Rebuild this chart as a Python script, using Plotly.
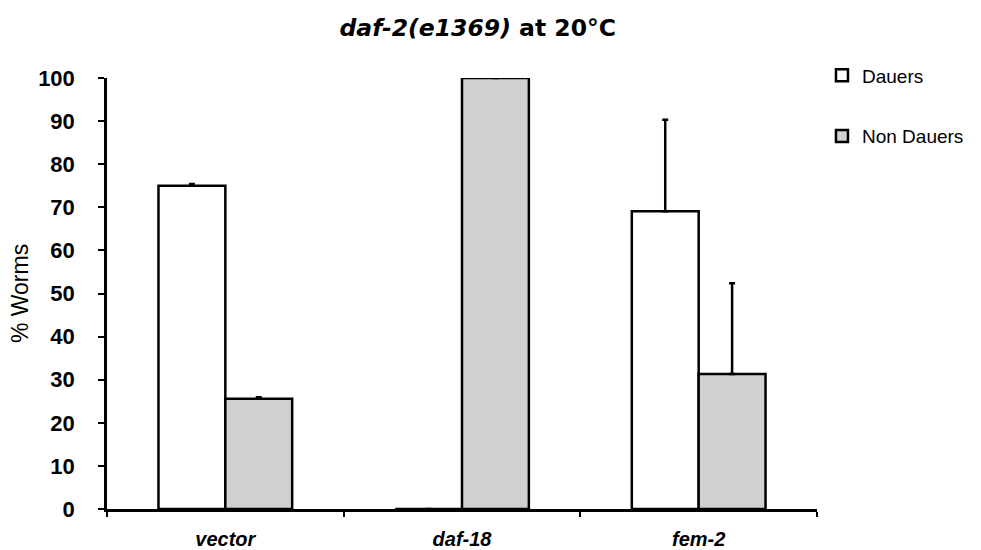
import plotly.graph_objects as go

categories = ["vector", "daf-18", "fem-2"]
dauers = [75.0, 0.0, 69.1]
dauers_err = [0.4, 0.0, 21.2]
non_dauers = [25.6, 100.0, 31.3]
non_dauers_err = [0.3, 0.0, 21.1]
y_ticks = [0, 10, 20, 30, 40, 50, 60, 70, 80, 90, 100]

fig = go.Figure()
fig.add_trace(go.Bar(
    name="Dauers", x=categories, y=dauers, legendgroup="a",
    marker=dict(color="white", line=dict(color="black", width=2.5)),
    error_y=dict(type="data", array=dauers_err, arrayminus=[0, 0, 0],
                 symmetric=False, color="black", thickness=2.5, width=3),
))
fig.add_trace(go.Bar(
    name="Non Dauers", x=categories, y=non_dauers, legendgroup="b",
    marker=dict(color="#d0d0d0", line=dict(color="black", width=2.5)),
    error_y=dict(type="data", array=non_dauers_err, arrayminus=[0, 0, 0],
                 symmetric=False, color="black", thickness=2.5, width=3),
))

fig.update_layout(
    width=981, height=550,
    margin=dict(l=107, r=164, t=78, b=41),
    paper_bgcolor="white", plot_bgcolor="white",
    barmode="group", bargap=0.435, bargroupgap=0,
    title=dict(text="<i>daf-2(e1369)</i> at 20°C", x=0.487, xanchor="center",
               y=0.95, yanchor="middle",
               font=dict(family="DejaVu Sans", size=23.5, color="black", weight="bold")),
    legend=dict(x=1.007, xanchor="left", y=1.05, yanchor="top",
                font=dict(family="Liberation Sans", size=19, color="black"),
                tracegroupgap=33, traceorder="grouped", itemwidth=30,
                bgcolor="rgba(0,0,0,0)"),
    font=dict(family="Liberation Sans", color="black"),
)
fig.update_xaxes(
    type="category", showline=True, linecolor="black", linewidth=2.5,
    ticks="outside", tickson="boundaries", ticklen=5, tickwidth=2, tickcolor="black",
    ticklabelstandoff=10, automargin=False,
    tickfont=dict(family="Liberation Sans", size=20, color="black",
                  weight="bold", style="italic"),
    showgrid=False, zeroline=False,
)
fig.update_yaxes(
    range=[0, 100], tickvals=y_ticks, showline=True, linecolor="black", linewidth=2.5,
    ticks="outside", ticklen=6, tickwidth=2, tickcolor="black",
    ticklabelstandoff=19, automargin=False,
    tickfont=dict(family="Liberation Sans", size=22, color="black", weight="bold"),
    showgrid=False, zeroline=False,
    title=dict(text="% Worms", standoff=4,
               font=dict(family="Liberation Sans", size=23, color="black")),
)

fig.write_html("out.html")
